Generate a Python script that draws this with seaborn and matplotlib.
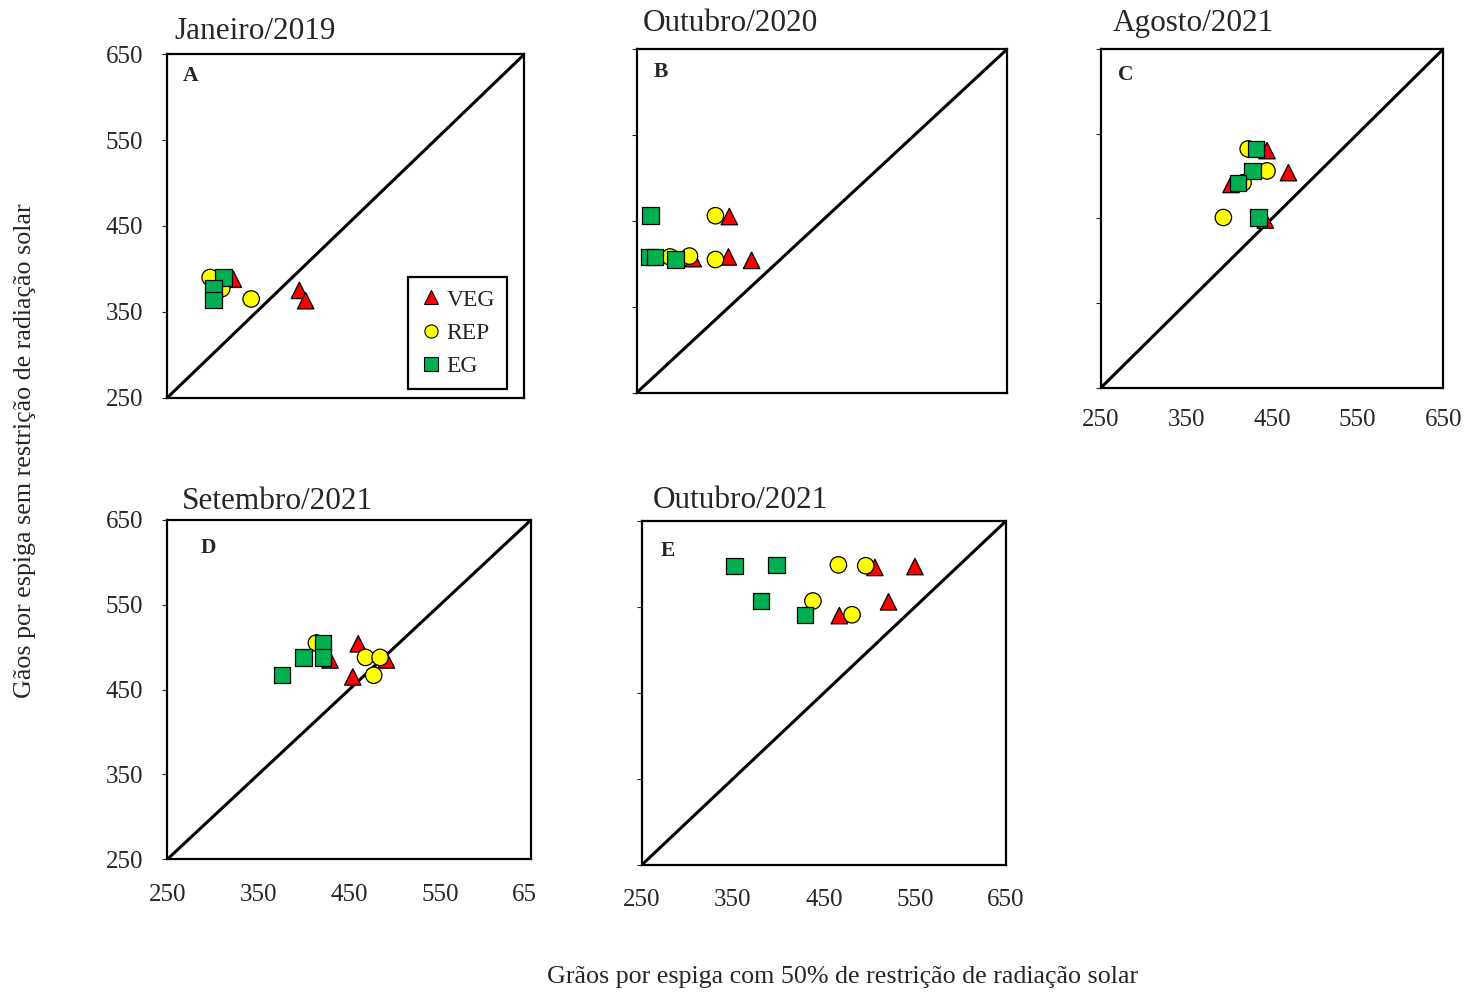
import numpy as np
import pandas as pd
import matplotlib
matplotlib.use("Agg")
import matplotlib.pyplot as plt
import seaborn as sns
from matplotlib.lines import Line2D
from matplotlib.transforms import Bbox, TransformedBbox

# ---------------- data ----------------
treatments = ["VEG", "REP", "EG"]
panel_titles = ["Janeiro/2019", "Outubro/2020", "Agosto/2021", "Setembro/2021", "Outubro/2021"]
panel_letters = ["A", "B", "C", "D", "E"]
tick_values = [250, 350, 450, 550, 650]

# x = grains per ear with 50% solar radiation restriction, y = without restriction
A_veg_x = [324, 398, 405]
A_veg_y = [388, 375, 363]
A_rep_x = [298, 311, 344]
A_rep_y = [390, 377, 365]
A_eg_x = [313, 302, 302]
A_eg_y = [390, 377, 364]

B_veg_x = [350, 311, 349, 374]
B_veg_y = [455, 406, 408, 404]
B_rep_x = [335, 286, 307, 335]
B_rep_y = [456, 408, 409, 405]
B_eg_x = [265, 264, 270, 292]
B_eg_y = [456, 408, 408, 405]

C_veg_x = [444, 469, 402, 442]
C_veg_y = [530, 504, 490, 448]
C_rep_x = [422, 444, 416, 393]
C_rep_y = [532, 506, 492, 451]
C_eg_x = [431, 427, 410, 434]
C_eg_y = [532, 506, 492, 451]

D_veg_x = [429, 460, 491, 454]
D_veg_y = [485, 504, 485, 465]
D_rep_x = [414, 468, 484, 477]
D_rep_y = [505, 488, 488, 467]
D_eg_x = [376, 400, 421, 421]
D_eg_y = [467, 488, 505, 488]

E_veg_x = [506, 550, 521, 467]
E_veg_y = [596, 597, 556, 540]
E_rep_x = [466, 496, 438, 481]
E_rep_y = [599, 598, 557, 541]
E_eg_x = [352, 398, 381, 429]
E_eg_y = [598, 599, 557, 541]

panels_data = [
    (A_veg_x, A_veg_y, A_rep_x, A_rep_y, A_eg_x, A_eg_y),
    (B_veg_x, B_veg_y, B_rep_x, B_rep_y, B_eg_x, B_eg_y),
    (C_veg_x, C_veg_y, C_rep_x, C_rep_y, C_eg_x, C_eg_y),
    (D_veg_x, D_veg_y, D_rep_x, D_rep_y, D_eg_x, D_eg_y),
    (E_veg_x, E_veg_y, E_rep_x, E_rep_y, E_eg_x, E_eg_y),
]

colors = {"VEG": "#FF0000", "REP": "#FFFF00", "EG": "#00B050"}
markers = {"VEG": "^", "REP": "o", "EG": "s"}

# ---------------- style ----------------
sns.set_style("white")
plt.rcParams["font.family"] = ["Liberation Serif", "DejaVu Serif"]

W, H = 1471, 992
fig = plt.figure(figsize=(W / 100, H / 100), dpi=100)

# layout in pixels: (left, top, right, bottom)
boxes = [
    (167.3, 54.3, 524.3, 397.7),
    (636.7, 49.0, 1007.3, 392.7),
    (1101.0, 49.0, 1443.3, 387.7),
    (167.3, 520.0, 531.0, 859.3),
    (641.7, 521.0, 1006.0, 865.0),
]
title_pos = [(174, 39), (643, 31), (1113, 31), (182, 509), (653, 508)]
letter_pos = [(183, 81), (654, 77), (1118, 80), (201, 553), (661, 556)]
show_ylabels = [True, False, False, True, False]
show_xlabels = [False, False, True, True, True]
xpads = [12, 12, 15.5, 17.5, 17]

axes = []
for i, (box, pdata) in enumerate(zip(boxes, panels_data)):
    l, t, r, b = box
    ax = fig.add_axes([l / W, 1 - b / H, (r - l) / W, (b - t) / H])
    axes.append(ax)
    vx, vy, rx, ry, ex, ey = pdata
    df = pd.DataFrame({
        "x": list(vx) + list(rx) + list(ex),
        "y": list(vy) + list(ry) + list(ey),
        "trat": ["VEG"] * len(vx) + ["REP"] * len(rx) + ["EG"] * len(ex),
    })
    ax.axline((250, 250), slope=1, color="black", lw=2.2, zorder=1)
    sns.scatterplot(data=df, x="x", y="y", hue="trat", style="trat",
                    hue_order=treatments, style_order=treatments,
                    palette=colors, markers=markers, s=140,
                    edgecolor="black", linewidth=0.9, legend=False,
                    ax=ax, zorder=3)
    ax.set_xlim(250, 650)
    ax.set_ylim(250, 650)
    ax.set_xlabel("")
    ax.set_ylabel("")
    ax.set_xticks(tick_values)
    ax.set_yticks(tick_values)
    for sp in ax.spines.values():
        sp.set_visible(True)
        sp.set_color("black")
        sp.set_linewidth(1.6)
    ax.tick_params(axis="y", length=3.5, width=0.8, pad=14, labelsize=18,
                   labelleft=show_ylabels[i], left=True)
    ax.tick_params(axis="x", length=0, pad=xpads[i], labelsize=18,
                   labelbottom=show_xlabels[i], bottom=False)
    tx, ty = title_pos[i]
    fig.text(tx / W, 1 - ty / H, panel_titles[i], fontsize=22.5,
             ha="left", va="baseline")
    lx, ly = letter_pos[i]
    fig.text(lx / W, 1 - ly / H, panel_letters[i], fontsize=15.5,
             fontweight="bold", ha="left", va="baseline")

# legend in panel A
handles = [Line2D([0], [0], marker=markers[t], color="none",
                  markerfacecolor=colors[t], markeredgecolor="black",
                  markeredgewidth=0.8, markersize=9.5, label=t) for t in treatments]
axA = axes[0]
lb = (507 - 167.3) / (524.3 - 167.3)
bb = (397.7 - 389) / (397.7 - 54.3)
leg = axA.legend(handles=handles, loc="lower right", bbox_to_anchor=(lb, bb),
                 borderaxespad=0, frameon=True, fancybox=False, fontsize=17,
                 labelspacing=0.5, handletextpad=0.15, handlelength=1.0,
                 borderpad=0.5, framealpha=1)
leg.get_frame().set_edgecolor("black")
leg.get_frame().set_linewidth(1.6)

# clip the last x tick label in panel D as in the reference
fig.canvas.draw()
axD = axes[3]
clip = TransformedBbox(Bbox([[0, 0], [537 / W, 1]]), fig.transFigure)
lastlab = axD.xaxis.get_major_ticks()[-1].label1
lastlab.set_clip_box(clip)
lastlab.set_clip_on(True)

fig.text(25 / W, 1 - 451 / H, "Gãos por espiga sem restrição de radiação solar",
         rotation=90, fontsize=18.7, ha="center", va="center")
fig.text(843 / W, 1 - 977 / H, "Grãos por espiga com 50% de restrição de radiação solar",
         fontsize=18.7, ha="center", va="center")

fig.savefig("out.png", dpi=100)
